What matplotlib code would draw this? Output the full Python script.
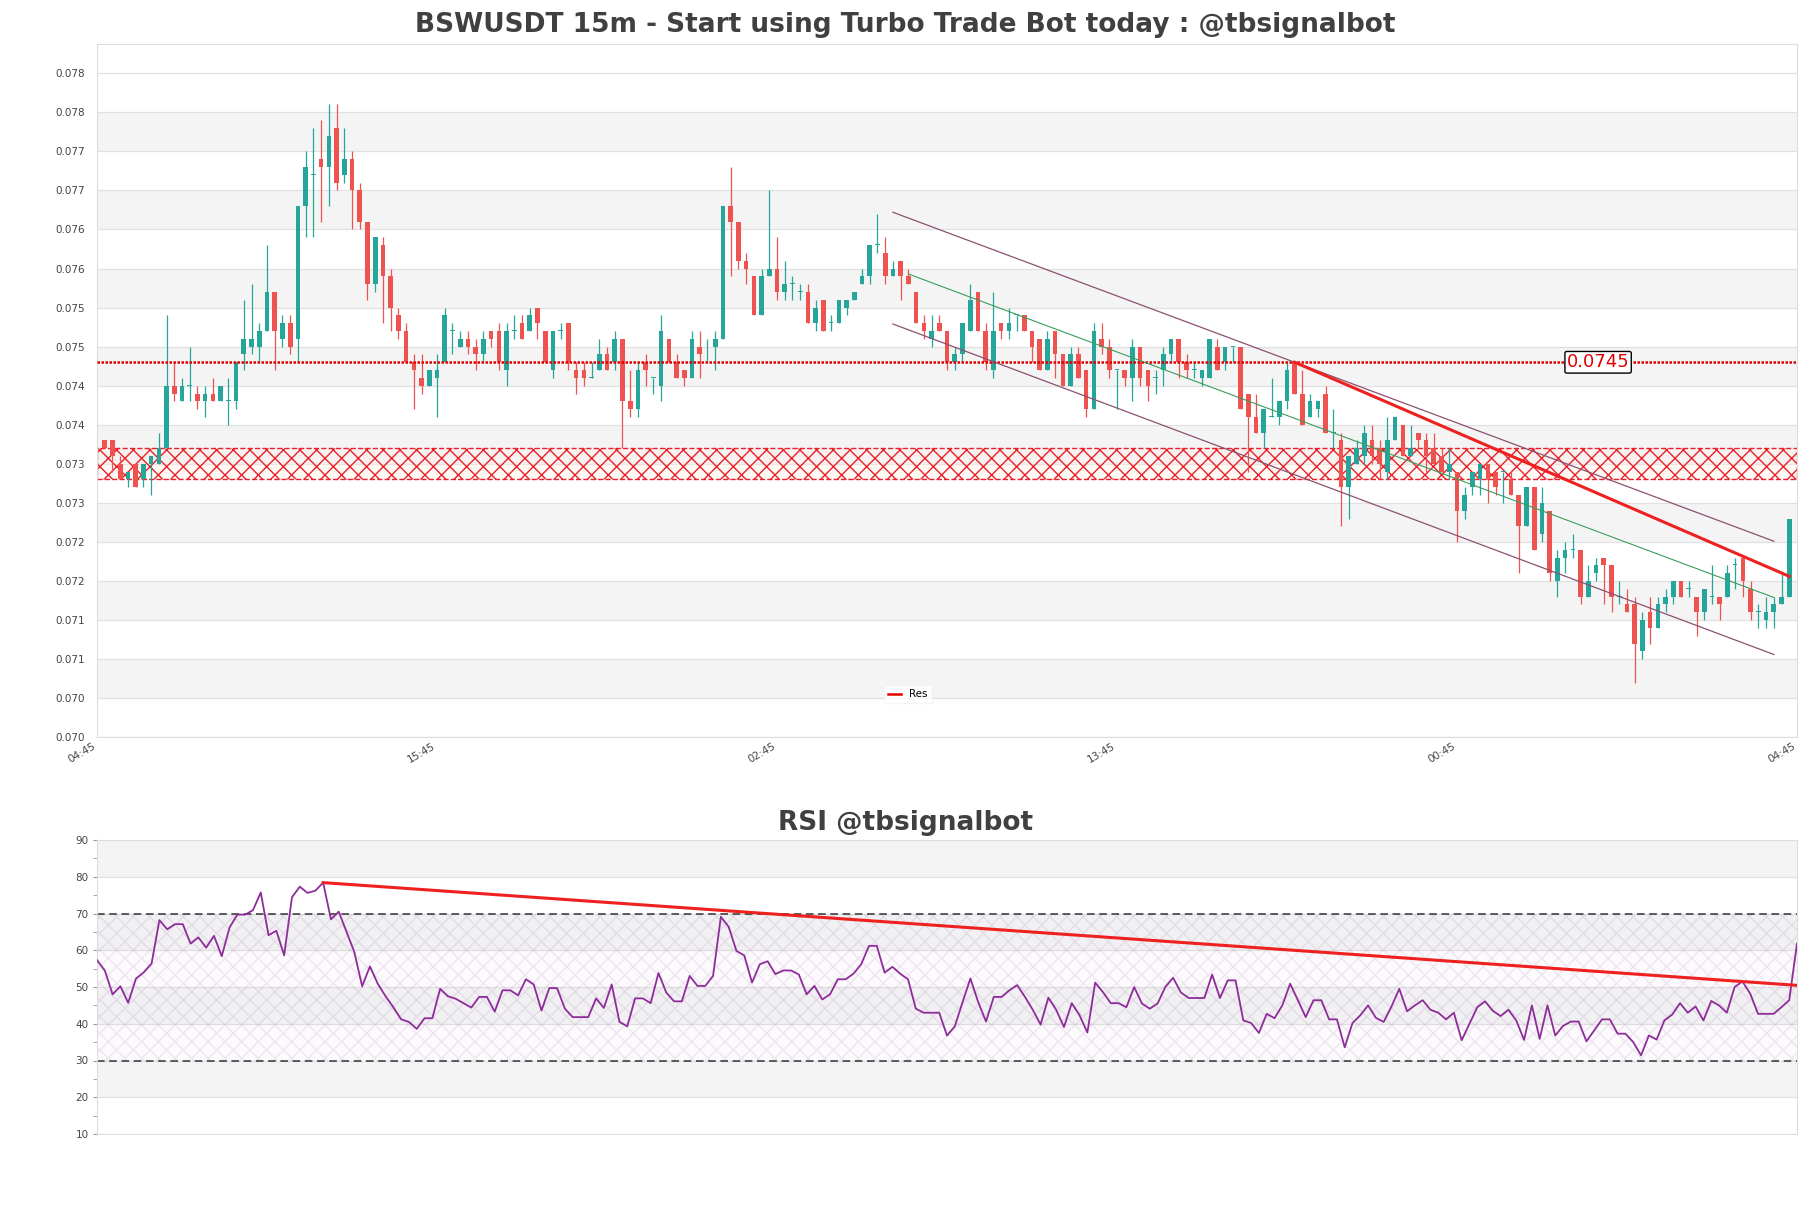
import numpy as np
import matplotlib.pyplot as plt
from matplotlib.lines import Line2D

# BSWUSDT 15m candles, oldest first
opens = [0.0735, 0.0735, 0.0732, 0.0730, 0.0732, 0.0730, 0.0732, 0.0732, 0.0734, 0.0742,
         0.0740, 0.0742, 0.0741, 0.0740, 0.0741, 0.0740, 0.0740, 0.0740, 0.0746, 0.0747,
         0.0747, 0.0749, 0.0754, 0.0748, 0.0750, 0.0748, 0.0765, 0.0769, 0.0771, 0.0770,
         0.0775, 0.0769, 0.0771, 0.0767, 0.0763, 0.0755, 0.0760, 0.0756, 0.0751, 0.0749,
         0.0745, 0.0743, 0.0742, 0.0743, 0.0745, 0.0749, 0.0747, 0.0748, 0.0747, 0.0746,
         0.0749, 0.0749, 0.0744, 0.0749, 0.0750, 0.0749, 0.0752, 0.0749, 0.0744, 0.0749,
         0.0750, 0.0744, 0.0744, 0.0743, 0.0744, 0.0746, 0.0745, 0.0748, 0.0740, 0.0739,
         0.0745, 0.0743, 0.0742, 0.0748, 0.0745, 0.0744, 0.0743, 0.0747, 0.0746, 0.0747,
         0.0748, 0.0765, 0.0763, 0.0758, 0.0756, 0.0751, 0.0756, 0.0757, 0.0754, 0.0755,
         0.0754, 0.0754, 0.0750, 0.0753, 0.0750, 0.0750, 0.0752, 0.0753, 0.0755, 0.0756,
         0.0760, 0.0759, 0.0756, 0.0758, 0.0756, 0.0754, 0.0750, 0.0748, 0.0750, 0.0749,
         0.0745, 0.0746, 0.0749, 0.0754, 0.0749, 0.0744, 0.0750, 0.0749, 0.0751, 0.0751,
         0.0749, 0.0748, 0.0744, 0.0749, 0.0746, 0.0742, 0.0746, 0.0744, 0.0739, 0.0748,
         0.0747, 0.0744, 0.0744, 0.0743, 0.0747, 0.0744, 0.0743, 0.0744, 0.0746, 0.0748,
         0.0745, 0.0744, 0.0743, 0.0743, 0.0747, 0.0745, 0.0747, 0.0747, 0.0741, 0.0738,
         0.0736, 0.0738, 0.0738, 0.0740, 0.0745, 0.0741, 0.0738, 0.0739, 0.0741, 0.0736,
         0.0735, 0.0729, 0.0732, 0.0733, 0.0735, 0.0734, 0.0731, 0.0735, 0.0737, 0.0733,
         0.0736, 0.0735, 0.0734, 0.0733, 0.0731, 0.0731, 0.0726, 0.0729, 0.0730, 0.0732,
         0.0731, 0.0731, 0.0730, 0.0728, 0.0724, 0.0729, 0.0723, 0.0726, 0.0717, 0.0720,
         0.0721, 0.0721, 0.0715, 0.0718, 0.0720, 0.0719, 0.0715, 0.0714, 0.0714, 0.0708,
         0.0713, 0.0711, 0.0714, 0.0715, 0.0717, 0.0716, 0.0715, 0.0713, 0.0715, 0.0715,
         0.0715, 0.0719, 0.0720, 0.0716, 0.0713, 0.0712, 0.0713, 0.0714, 0.0715]
highs = [0.0735, 0.0735, 0.0733, 0.0731, 0.0732, 0.0732, 0.0733, 0.0736, 0.0751, 0.0745,
         0.0743, 0.0747, 0.0742, 0.0742, 0.0743, 0.0742, 0.0743, 0.0745, 0.0753, 0.0755,
         0.0750, 0.0760, 0.0754, 0.0751, 0.0751, 0.0765, 0.0772, 0.0775, 0.0776, 0.0778,
         0.0778, 0.0775, 0.0772, 0.0768, 0.0763, 0.0761, 0.0761, 0.0757, 0.0752, 0.0750,
         0.0746, 0.0746, 0.0744, 0.0746, 0.0752, 0.0750, 0.0749, 0.0749, 0.0748, 0.0749,
         0.0749, 0.0750, 0.0750, 0.0751, 0.0751, 0.0752, 0.0752, 0.0749, 0.0749, 0.0750,
         0.0750, 0.0745, 0.0745, 0.0745, 0.0748, 0.0747, 0.0749, 0.0748, 0.0744, 0.0745,
         0.0746, 0.0743, 0.0751, 0.0748, 0.0746, 0.0744, 0.0749, 0.0749, 0.0748, 0.0749,
         0.0765, 0.0770, 0.0763, 0.0759, 0.0756, 0.0757, 0.0767, 0.0761, 0.0758, 0.0756,
         0.0755, 0.0755, 0.0753, 0.0753, 0.0751, 0.0753, 0.0753, 0.0754, 0.0757, 0.0760,
         0.0764, 0.0761, 0.0758, 0.0758, 0.0757, 0.0754, 0.0751, 0.0751, 0.0751, 0.0749,
         0.0747, 0.0750, 0.0755, 0.0754, 0.0750, 0.0754, 0.0750, 0.0752, 0.0751, 0.0751,
         0.0749, 0.0748, 0.0749, 0.0749, 0.0746, 0.0747, 0.0747, 0.0744, 0.0750, 0.0750,
         0.0748, 0.0744, 0.0744, 0.0748, 0.0747, 0.0744, 0.0744, 0.0747, 0.0748, 0.0748,
         0.0746, 0.0745, 0.0744, 0.0748, 0.0748, 0.0747, 0.0747, 0.0747, 0.0741, 0.0741,
         0.0739, 0.0743, 0.0740, 0.0745, 0.0745, 0.0744, 0.0741, 0.0740, 0.0742, 0.0739,
         0.0736, 0.0733, 0.0735, 0.0737, 0.0737, 0.0735, 0.0738, 0.0738, 0.0737, 0.0737,
         0.0736, 0.0736, 0.0736, 0.0734, 0.0734, 0.0731, 0.0729, 0.0731, 0.0732, 0.0732,
         0.0731, 0.0731, 0.0731, 0.0728, 0.0729, 0.0729, 0.0729, 0.0726, 0.0721, 0.0722,
         0.0723, 0.0721, 0.0719, 0.0720, 0.0720, 0.0719, 0.0717, 0.0716, 0.0715, 0.0713,
         0.0715, 0.0715, 0.0716, 0.0717, 0.0717, 0.0717, 0.0715, 0.0716, 0.0719, 0.0715,
         0.0719, 0.0720, 0.0720, 0.0717, 0.0714, 0.0715, 0.0715, 0.0718, 0.0725]
lows = [0.0734, 0.0731, 0.0730, 0.0729, 0.0729, 0.0729, 0.0728, 0.0732, 0.0734, 0.0740,
        0.0740, 0.0740, 0.0739, 0.0738, 0.0740, 0.0740, 0.0737, 0.0739, 0.0744, 0.0746,
        0.0745, 0.0749, 0.0744, 0.0747, 0.0746, 0.0745, 0.0761, 0.0761, 0.0763, 0.0765,
        0.0767, 0.0768, 0.0762, 0.0762, 0.0753, 0.0754, 0.0750, 0.0749, 0.0748, 0.0745,
        0.0739, 0.0741, 0.0742, 0.0738, 0.0745, 0.0746, 0.0747, 0.0746, 0.0744, 0.0745,
        0.0747, 0.0744, 0.0742, 0.0748, 0.0748, 0.0749, 0.0748, 0.0745, 0.0743, 0.0748,
        0.0744, 0.0741, 0.0742, 0.0743, 0.0744, 0.0744, 0.0744, 0.0734, 0.0738, 0.0738,
        0.0742, 0.0741, 0.0740, 0.0745, 0.0743, 0.0742, 0.0743, 0.0743, 0.0745, 0.0744,
        0.0748, 0.0756, 0.0757, 0.0755, 0.0751, 0.0751, 0.0756, 0.0753, 0.0753, 0.0753,
        0.0753, 0.0750, 0.0749, 0.0749, 0.0749, 0.0750, 0.0751, 0.0753, 0.0755, 0.0755,
        0.0759, 0.0755, 0.0756, 0.0753, 0.0755, 0.0750, 0.0748, 0.0747, 0.0749, 0.0744,
        0.0744, 0.0745, 0.0749, 0.0749, 0.0744, 0.0743, 0.0748, 0.0748, 0.0749, 0.0749,
        0.0745, 0.0744, 0.0744, 0.0743, 0.0742, 0.0742, 0.0743, 0.0738, 0.0739, 0.0746,
        0.0743, 0.0739, 0.0742, 0.0740, 0.0742, 0.0740, 0.0741, 0.0742, 0.0745, 0.0743,
        0.0743, 0.0743, 0.0742, 0.0743, 0.0744, 0.0744, 0.0745, 0.0739, 0.0731, 0.0736,
        0.0734, 0.0738, 0.0737, 0.0739, 0.0741, 0.0737, 0.0738, 0.0738, 0.0736, 0.0734,
        0.0724, 0.0725, 0.0732, 0.0732, 0.0732, 0.0730, 0.0730, 0.0735, 0.0733, 0.0733,
        0.0734, 0.0731, 0.0732, 0.0731, 0.0730, 0.0722, 0.0725, 0.0728, 0.0728, 0.0727,
        0.0728, 0.0727, 0.0728, 0.0718, 0.0724, 0.0721, 0.0722, 0.0717, 0.0715, 0.0718,
        0.0720, 0.0714, 0.0715, 0.0717, 0.0714, 0.0713, 0.0714, 0.0713, 0.0704, 0.0707,
        0.0709, 0.0711, 0.0713, 0.0714, 0.0715, 0.0715, 0.0710, 0.0712, 0.0714, 0.0712,
        0.0715, 0.0716, 0.0715, 0.0712, 0.0711, 0.0711, 0.0711, 0.0714, 0.0715]
closes = [0.0734, 0.0733, 0.0730, 0.0731, 0.0729, 0.0732, 0.0733, 0.0734, 0.0742, 0.0741,
          0.0742, 0.0742, 0.0740, 0.0741, 0.0740, 0.0742, 0.0740, 0.0745, 0.0748, 0.0748,
          0.0749, 0.0754, 0.0749, 0.0750, 0.0747, 0.0765, 0.0770, 0.0769, 0.0770, 0.0774,
          0.0768, 0.0771, 0.0767, 0.0763, 0.0755, 0.0761, 0.0756, 0.0752, 0.0749, 0.0745,
          0.0744, 0.0742, 0.0744, 0.0744, 0.0751, 0.0749, 0.0748, 0.0747, 0.0746, 0.0748,
          0.0748, 0.0745, 0.0749, 0.0749, 0.0748, 0.0751, 0.0750, 0.0745, 0.0749, 0.0749,
          0.0745, 0.0743, 0.0743, 0.0743, 0.0746, 0.0744, 0.0748, 0.0740, 0.0739, 0.0744,
          0.0744, 0.0743, 0.0749, 0.0745, 0.0743, 0.0743, 0.0748, 0.0746, 0.0746, 0.0748,
          0.0765, 0.0763, 0.0758, 0.0757, 0.0751, 0.0756, 0.0757, 0.0754, 0.0755, 0.0755,
          0.0754, 0.0750, 0.0752, 0.0749, 0.0750, 0.0753, 0.0753, 0.0754, 0.0756, 0.0760,
          0.0760, 0.0756, 0.0757, 0.0756, 0.0755, 0.0750, 0.0749, 0.0749, 0.0749, 0.0745,
          0.0746, 0.0750, 0.0753, 0.0749, 0.0745, 0.0749, 0.0749, 0.0750, 0.0751, 0.0749,
          0.0747, 0.0744, 0.0748, 0.0746, 0.0742, 0.0746, 0.0743, 0.0739, 0.0749, 0.0747,
          0.0744, 0.0744, 0.0743, 0.0747, 0.0743, 0.0742, 0.0743, 0.0746, 0.0748, 0.0745,
          0.0744, 0.0744, 0.0744, 0.0748, 0.0744, 0.0747, 0.0747, 0.0739, 0.0738, 0.0736,
          0.0739, 0.0738, 0.0740, 0.0744, 0.0741, 0.0737, 0.0740, 0.0740, 0.0736, 0.0736,
          0.0729, 0.0733, 0.0734, 0.0736, 0.0733, 0.0732, 0.0735, 0.0738, 0.0733, 0.0734,
          0.0735, 0.0733, 0.0732, 0.0731, 0.0732, 0.0726, 0.0728, 0.0731, 0.0732, 0.0730,
          0.0729, 0.0731, 0.0728, 0.0724, 0.0729, 0.0721, 0.0727, 0.0718, 0.0720, 0.0721,
          0.0721, 0.0715, 0.0717, 0.0719, 0.0719, 0.0715, 0.0715, 0.0713, 0.0709, 0.0712,
          0.0711, 0.0714, 0.0715, 0.0717, 0.0715, 0.0716, 0.0713, 0.0716, 0.0715, 0.0714,
          0.0718, 0.0719, 0.0717, 0.0713, 0.0713, 0.0713, 0.0714, 0.0715, 0.0725]

rsi = [57.3, 54.5, 48.0, 50.2, 45.7, 52.3, 54.0, 56.4, 68.2, 65.7,
       67.1, 67.1, 61.8, 63.5, 60.7, 63.9, 58.4, 66.2, 69.7, 69.7,
       70.9, 75.7, 64.1, 65.3, 58.6, 74.4, 77.3, 75.6, 76.2, 78.4,
       68.4, 70.5, 65.0, 59.5, 50.2, 55.6, 50.9, 47.5, 44.5, 41.2,
       40.5, 38.6, 41.5, 41.5, 49.5, 47.5, 46.8, 45.6, 44.4, 47.3,
       47.3, 43.3, 49.1, 49.1, 47.7, 52.1, 50.7, 43.6, 49.7, 49.7,
       44.1, 41.8, 41.8, 41.8, 46.9, 44.3, 50.7, 40.5, 39.3, 46.9,
       46.9, 45.6, 53.8, 48.5, 46.1, 46.1, 53.0, 50.3, 50.3, 53.0,
       69.1, 66.4, 59.8, 58.6, 51.2, 56.2, 57.0, 53.5, 54.5, 54.5,
       53.4, 48.0, 50.3, 46.6, 48.0, 52.1, 52.1, 53.6, 56.2, 61.2,
       61.2, 53.9, 55.5, 53.6, 52.1, 44.1, 43.0, 43.0, 43.0, 36.8,
       39.3, 45.9, 52.3, 45.9, 40.6, 47.3, 47.3, 49.1, 50.5, 47.3,
       43.8, 39.8, 47.1, 43.8, 39.1, 45.6, 42.3, 37.6, 51.2, 48.6,
       45.6, 45.6, 44.5, 50.0, 45.5, 44.1, 45.5, 50.0, 52.5, 48.5,
       47.0, 47.0, 47.0, 53.4, 47.0, 51.8, 51.8, 40.9, 40.2, 37.5,
       42.7, 41.5, 45.0, 50.9, 46.4, 41.8, 46.4, 46.4, 41.2, 41.2,
       33.6, 40.2, 42.3, 45.0, 41.6, 40.5, 44.7, 49.5, 43.4, 45.0,
       46.4, 43.8, 43.0, 41.2, 43.0, 35.5, 40.0, 44.5, 46.1, 43.5,
       42.1, 43.8, 40.9, 35.6, 45.0, 35.9, 45.0, 36.8, 39.4, 40.6,
       40.6, 35.2, 38.2, 41.2, 41.2, 37.3, 37.3, 35.0, 31.4, 36.8,
       35.7, 40.9, 42.5, 45.6, 43.0, 44.7, 40.9, 46.2, 45.0, 43.0,
       50.0, 51.5, 48.2, 42.7, 42.7, 42.7, 44.5, 46.4, 61.8]

time_labels = ['04:45', '15:45', '02:45', '13:45', '00:45', '04:45']

res_level = 0.0745
zone_lo, zone_hi = 0.0730, 0.0734
chan_x = [102, 216]
chan_upper = [0.07642, 0.07221]
chan_lower = [0.07499, 0.07076]
mid_x = [104, 216]
chan_mid = [0.07563, 0.07149]
trend_x = [154, 218]
trend_y = [0.0745, 0.07176]
rsi_trend_x = [29, 218]
rsi_trend_y = [78.4, 50.45]

n = len(opens)
idx = np.arange(n)
o = np.array(opens); h = np.array(highs); l = np.array(lows); c = np.array(closes)
up = c >= o
green = '#26a69a'
red = '#ef5350'
cols = np.where(up, green, red)

fig = plt.figure(figsize=(18.11, 12.08), dpi=100)
ax = fig.add_axes([97/1811, 1 - 737.3/1208, 1700/1811, 693.8/1208])
ax2 = fig.add_axes([97/1811, 1 - 1134/1208, 1700/1811, 294/1208])

# price panel
ticks = [0.0697 + 0.0005*k for k in range(18)]
for k in range(1, 17, 2):
    ax.axhspan(ticks[k], ticks[k+1], color='#f4f4f4', zorder=0, lw=0)
for t in ticks:
    ax.axhline(t, color='#e1e1e1', lw=0.9, zorder=0.5)

# support zone (under the candles)
ax.axhspan(zone_lo, zone_hi, facecolor=(1, 0.94, 0.9, 0.35), edgecolor='#e8202a',
           hatch='xx', lw=1.0, ls='--', zorder=1.5)

ax.vlines(idx, l, h, colors=cols, lw=0.9, zorder=2)
body = np.maximum(np.abs(c - o), 0.000012)
ax.bar(idx, body, bottom=np.minimum(o, c), width=0.6, color=cols, lw=0, zorder=2.5)

ax.axhline(res_level, color='#e00000', lw=1.8, ls=(0, (1, 0.6)), zorder=4)
ax.text(189.2, res_level, '0.0745', color='#e00000', fontsize=13, va='center', ha='left',
        zorder=6, bbox=dict(boxstyle='round,pad=0.1', fc='white', ec='black', lw=1))

ax.plot(chan_x, chan_upper, color='#8c5070', lw=0.9, zorder=4)
ax.plot(chan_x, chan_lower, color='#8c5070', lw=0.9, zorder=4)
ax.plot(mid_x, chan_mid, color='#3a9d5d', lw=0.8, zorder=4)
ax.plot(trend_x, trend_y, color='#ee2020', lw=2.2, zorder=5)

ax.set_xlim(-1, n)
ax.set_ylim(0.0697, 0.07858)
ax.set_yticks(ticks)
ax.set_yticklabels(['%.3f' % t for t in ticks])
ax.set_xticks(np.linspace(-1, n, 6))
ax.set_xticklabels(time_labels, rotation=30, ha='right')
ax.tick_params(axis='both', length=0, labelsize=7.5, labelcolor='#444')
ax.tick_params(axis='y', pad=9)
ax.tick_params(axis='x', pad=3)
for s in ax.spines.values():
    s.set_color('#dddddd')
res_handle = Line2D([], [], color='#e00000', lw=1.8)
leg = ax.legend([res_handle], ['Res'], loc='center', bbox_to_anchor=(0.477, 0.062),
                fontsize=7.5, frameon=True, handlelength=1.2, borderpad=0.4)
leg.get_frame().set_edgecolor('#f2f2f2')
leg.get_frame().set_facecolor('white')

# RSI panel
for lo in (20, 40, 60, 80):
    ax2.axhspan(lo, lo + 10, color='#f4f4f4', zorder=0, lw=0)
for t in range(10, 91, 10):
    ax2.axhline(t, color='#e1e1e1', lw=0.9, zorder=0.5)
ax2.axhspan(30, 70, facecolor=(0.6, 0.3, 0.7, 0.025), edgecolor=(0.55, 0.35, 0.6, 0.13),
            hatch='xx', lw=0, zorder=1)
ax2.axhline(30, color='#333333', lw=1.1, ls=(0, (5, 3)), zorder=2)
ax2.axhline(70, color='#333333', lw=1.1, ls=(0, (5, 3)), zorder=2)
ax2.plot(idx, rsi, color='#8e2c9a', lw=1.3, zorder=3)
ax2.plot(rsi_trend_x, rsi_trend_y, color='#ee2020', lw=2.2, zorder=4)
ax2.set_xlim(0, n - 1)
ax2.set_ylim(10, 90)
ax2.set_yticks(range(10, 91, 10))
ax2.set_yticks(range(15, 90, 10), minor=True)
ax2.set_xticks([])
ax2.tick_params(axis='y', which='both', length=3, color='#999999', labelsize=7.5,
                labelcolor='#444', pad=3)
for s in ax2.spines.values():
    s.set_color('#dddddd')

fig.text(0.5, 1 - 25.5/1208, 'BSWUSDT 15m - Start using Turbo Trade Bot today : @tbsignalbot',
         ha='center', va='center', fontsize=19, fontweight='bold', color='#404040')
fig.text(0.5, 1 - 822.5/1208, 'RSI @tbsignalbot', ha='center', va='center',
         fontsize=19, fontweight='bold', color='#404040')

fig.savefig('out.png', dpi=100, facecolor='white')
